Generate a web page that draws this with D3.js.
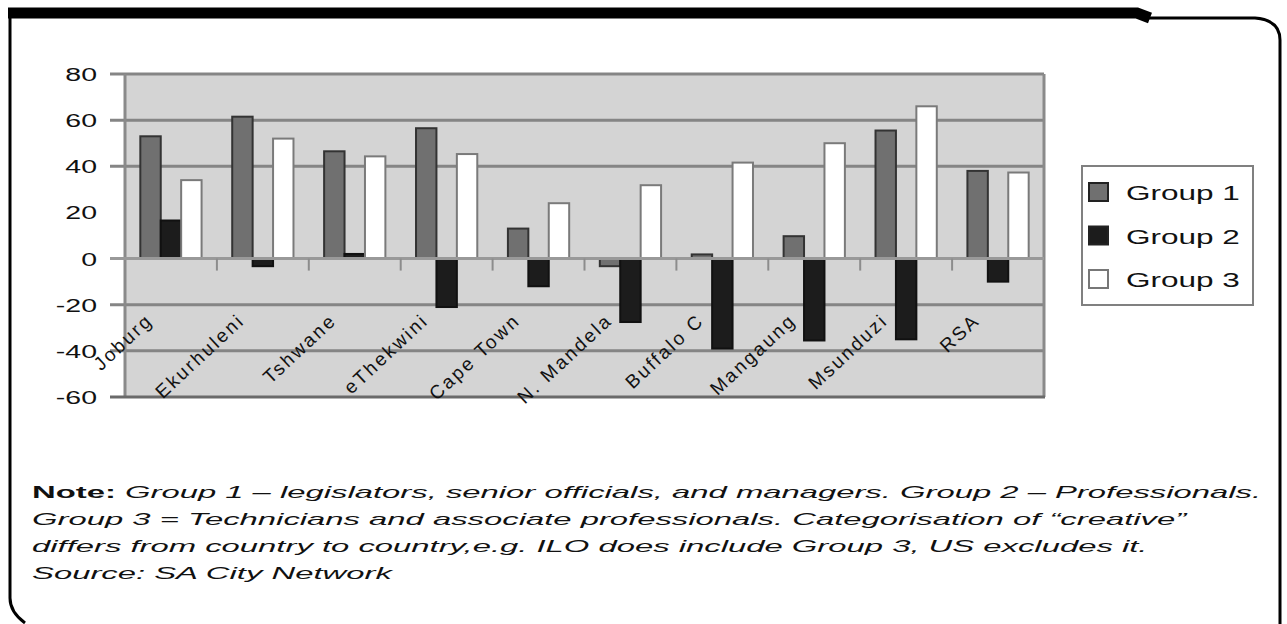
<!DOCTYPE html>
<html>
<head>
<meta charset="utf-8">
<script src="https://cdn.jsdelivr.net/npm/d3@7"></script>
<style>
  html, body { margin: 0; padding: 0; background: #fff; }
  svg { display: block; font-family: Arial, "Liberation Sans", sans-serif; }
</style>
</head>
<body>
<div id="chart"></div>
<script>
'use strict';

// values
var cities = ['Joburg', 'Ekurhuleni', 'Tshwane', 'eThekwini', 'Cape Town',
              'N. Mandela', 'Buffalo C', 'Mangaung', 'Msunduzi', 'RSA'];
var group1 = [53, 61.5, 46.5, 56.5, 13, -3.3, 1.8, 9.7, 55.5, 38];
var group2 = [16.5, -3.3, 2, -21, -12, -27.5, -39, -35.5, -35, -10];
var group3 = [34, 52, 44.3, 45.3, 24, 31.8, 41.6, 50, 66, 37.3];
var seriesNames = ['Group 1', 'Group 2', 'Group 3'];
var yTicks = [80, 60, 40, 20, 0, -20, -40, -60];
var gridTicks = [80, 60, 40, -20, -40];   // the 20 line is lost in the source image
var noteLines = [
    ['Note: ', 'Group 1 \u2013 legislators, senior officials, and managers. Group 2 \u2013 Professionals.'],
    ['', 'Group 3 = Technicians and associate professionals. Categorisation of \u201ccreative\u201d'],
    ['', 'differs from country to country,e.g. ILO does include Group 3, US excludes it.'],
    ['', 'Source: SA City Network']
];

var W = 1287, H = 624;
var plot = {left: 125, right: 1044, top: 74, bottom: 397};
var SX = 1.5;   // the source picture is stretched sideways

var svg = d3.select('#chart').append('svg')
    .attr('width', W)
    .attr('height', H)
    .attr('viewBox', '0 0 ' + W + ' ' + H);

svg.append('rect').attr('width', W).attr('height', H).attr('fill', '#fff');

// ---- frame ----
var frame = svg.append('g').attr('fill', 'none').attr('stroke', '#000');
frame.append('path')
    .attr('d', 'M8,13 H1137 L1150,18')
    .attr('stroke-width', 11);
frame.append('path')
    .attr('d', 'M1140,18 H1255 Q1280,20 1280,40 V624')
    .attr('stroke-width', 3);
frame.append('path')
    .attr('d', 'M10,8 V598 Q10,612 25,623')
    .attr('stroke-width', 3);

// ---- scales ----
var y = d3.scaleLinear().domain([-60, 80]).range([plot.bottom, plot.top]);
var x0 = d3.scaleBand().domain(cities).range([plot.left, plot.right]).padding(0);
var bw = x0.bandwidth();
var x1 = d3.scaleBand().domain(seriesNames).range([bw / 6, bw * 5 / 6]).padding(0);

var table = cities.map(function(c, i) {
    return {city: c, values: [group1[i], group2[i], group3[i]]};
});

var fills = {'Group 1': '#707070', 'Group 2': '#1c1c1c', 'Group 3': '#ffffff'};
var strokes = {'Group 1': '#333333', 'Group 2': '#111111', 'Group 3': '#7a7a7a'};

// ---- plot area ----
svg.append('rect')
    .attr('x', plot.left).attr('y', plot.top)
    .attr('width', plot.right - plot.left)
    .attr('height', plot.bottom - plot.top)
    .attr('fill', '#d4d4d4');

svg.append('g')
    .selectAll('line')
    .data(gridTicks)
    .enter().append('line')
        .attr('x1', plot.left - 15).attr('x2', plot.right)
        .attr('y1', function(d) { return y(d); })
        .attr('y2', function(d) { return y(d); })
        .attr('stroke', '#858585')
        .attr('stroke-width', 3);

// plot border
svg.append('line')
    .attr('x1', plot.left).attr('x2', plot.left)
    .attr('y1', plot.top).attr('y2', plot.bottom)
    .attr('stroke', '#8a8a8a').attr('stroke-width', 3);
svg.append('line')
    .attr('x1', plot.right).attr('x2', plot.right)
    .attr('y1', plot.top).attr('y2', plot.bottom)
    .attr('stroke', '#8a8a8a').attr('stroke-width', 3);
svg.append('line')
    .attr('x1', plot.left - 15).attr('x2', plot.right + 1)
    .attr('y1', y(-60)).attr('y2', y(-60))
    .attr('stroke', '#6a6a6a').attr('stroke-width', 3);

// ---- bars ----
var groups = svg.append('g')
    .selectAll('g')
    .data(table)
    .enter().append('g')
        .attr('transform', function(d) { return 'translate(' + x0(d.city) + ',0)'; });

groups.selectAll('rect')
    .data(function(d) {
        return d.values.map(function(v, j) { return {name: seriesNames[j], value: v}; });
    })
    .enter().append('rect')
        .attr('x', function(d) { return x1(d.name); })
        .attr('y', function(d) { return y(Math.max(0, d.value)); })
        .attr('width', x1.bandwidth())
        .attr('height', function(d) { return Math.abs(y(d.value) - y(0)); })
        .attr('fill', function(d) { return fills[d.name]; })
        .attr('stroke', function(d) { return strokes[d.name]; })
        .attr('stroke-width', 2);

// zero line and category ticks
svg.append('line')
    .attr('x1', plot.left - 15).attr('x2', plot.right)
    .attr('y1', y(0)).attr('y2', y(0))
    .attr('stroke', '#999').attr('stroke-width', 3);

svg.append('g')
    .selectAll('line')
    .data(cities.slice(1))
    .enter().append('line')
        .attr('x1', function(d) { return x0(d); })
        .attr('x2', function(d) { return x0(d); })
        .attr('y1', y(0)).attr('y2', y(0) + 12)
        .attr('stroke', '#8c8c8c').attr('stroke-width', 2);

// ---- y axis labels ----
svg.append('g')
    .selectAll('text')
    .data(yTicks)
    .enter().append('text')
        .attr('transform', function(d) {
            return 'translate(97,' + (y(d) + 7) + ') scale(' + SX + ',1)';
        })
        .attr('text-anchor', 'end')
        .attr('font-size', 19)
        .attr('fill', '#111')
        .text(function(d) { return d < 0 ? '-' + Math.abs(d) : d; });

// ---- category labels ----
svg.append('g')
    .selectAll('text')
    .data(cities)
    .enter().append('text')
        .attr('transform', function(d) {
            var cx = x0(d) + bw / 2 - 17;
            return 'translate(' + cx + ',322) rotate(-43)';
        })
        .attr('text-anchor', 'end')
        .attr('font-size', 19)
        .attr('letter-spacing', 2.4)
        .attr('fill', '#111')
        .text(function(d) { return d; });

// ---- legend ----
var legend = svg.append('g');
legend.append('rect')
    .attr('x', 1082).attr('y', 166)
    .attr('width', 171).attr('height', 139)
    .attr('fill', '#fff')
    .attr('stroke', '#808080').attr('stroke-width', 2);

var rowY = d3.scalePoint().domain(seriesNames).range([192, 279]);
var item = legend.selectAll('g')
    .data(seriesNames)
    .enter().append('g')
        .attr('transform', function(d) { return 'translate(0,' + rowY(d) + ')'; });
item.append('rect')
    .attr('x', 1089).attr('y', -9)
    .attr('width', 19).attr('height', 18)
    .attr('fill', function(d) { return fills[d]; })
    .attr('stroke', function(d) { return d == 'Group 3' ? '#777' : '#222'; })
    .attr('stroke-width', 2);
item.append('text')
    .attr('transform', 'translate(1126,8) scale(' + SX + ',1)')
    .attr('font-size', 21)
    .attr('fill', '#111')
    .text(function(d) { return d; });

// ---- note ----
var note = svg.append('g');
var noteText = note.selectAll('text')
    .data(noteLines)
    .enter().append('text')
        .attr('font-size', 17)
        .attr('fill', '#111');
noteText.append('tspan')
    .attr('font-weight', 'bold')
    .text(function(d) { return d[0]; });
noteText.append('tspan')
    .attr('font-style', 'italic')
    .text(function(d) { return d[1]; });

// fit the first line to its width in the picture, use the same stretch for all
var firstLen = noteText.node().getComputedTextLength();
var noteSX = (1262 - 32) / firstLen;
noteText.attr('transform', function(d, i) {
    return 'translate(32,' + (498 + i * 27) + ') scale(' + noteSX + ',1)';
});
</script>
</body>
</html>
